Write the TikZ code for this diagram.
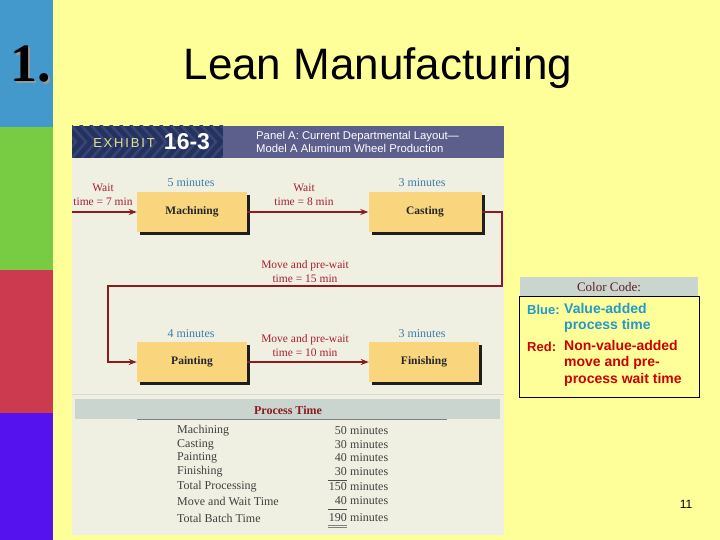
\documentclass[tikz,border=0pt]{standalone}
\usepackage{fontspec}
\setmainfont{Liberation Serif}
\newfontfamily\arialfont{Liberation Sans}
\newfontfamily\exhfont[LetterSpace=14]{Liberation Sans}
\usetikzlibrary{arrows.meta,positioning,shadows}
\definecolor{slideyellow}{RGB}{255,255,153}
\definecolor{stripeblue}{RGB}{68,153,204}
\definecolor{stripegreen}{RGB}{119,204,68}
\definecolor{stripered}{RGB}{204,58,80}
\definecolor{stripepurple}{RGB}{85,17,238}
\definecolor{panelbg}{RGB}{240,240,226}
\definecolor{headnavy}{RGB}{38,50,94}
\definecolor{headnavylight}{RGB}{54,68,118}
\definecolor{headgray}{RGB}{92,95,140}
\definecolor{exhyellow}{RGB}{226,224,140}
\definecolor{boxfill}{RGB}{249,214,126}
\definecolor{shadowgray}{RGB}{30,30,30}
\definecolor{flowred}{RGB}{140,26,30}
\definecolor{labelred}{RGB}{170,30,50}
\definecolor{labelblue}{RGB}{60,125,170}
\definecolor{bandgray}{RGB}{201,213,206}
\definecolor{codeblue}{RGB}{34,153,204}
\definecolor{codered}{RGB}{204,0,0}
\definecolor{codebrown}{RGB}{100,30,30}

\begin{document}
\begin{tikzpicture}[x=1pt, y=-1pt,
    procbox/.style={rectangle, fill=boxfill, minimum width=110pt, minimum height=40pt,
                    font=\fontsize{11.5}{13}\selectfont\bfseries, text=black!85,
                    drop shadow={shadow xshift=3pt, shadow yshift=-3pt, fill=shadowgray, opacity=1}},
    flow/.style={-{Stealth[length=8pt, width=6pt]}, line width=1.4pt, flowred},
    redlbl/.style={align=center, text=labelred, inner sep=0pt, font=\fontsize{11.5}{14}\selectfont},
    bluelbl/.style={text=labelblue, inner sep=0pt, font=\fontsize{12}{14}\selectfont},
    rowlbl/.style={anchor=west, inner sep=0pt, text=black!75, font=\fontsize{12}{14}\selectfont},
    rownum/.style={anchor=east, inner sep=0pt, text=black!75, font=\fontsize{12}{14}\selectfont},
    codetxt/.style={anchor=west, inner sep=0pt, font=\arialfont\fontsize{14}{16.5}\selectfont\bfseries}]

% Slide background and side stripes
\useasboundingbox (0,0) rectangle (720,540);
\fill[slideyellow] (0,0) rectangle (720,540);
\fill[stripeblue] (0,0) rectangle (53,127);
\fill[stripegreen] (0,127) rectangle (53,270);
\fill[stripered] (0,270) rectangle (53,413);
\fill[stripepurple] (0,413) rectangle (53,540);

% Slide number and title
\node[text=black!40, font=\fontsize{54}{58}\selectfont\bfseries] (numshadow) at (32.5,66) {1.};
\node[text=black, font=\fontsize{54}{58}\selectfont\bfseries] (num) at (31,64.5) {1.};
\node[font=\arialfont\fontsize{44}{48}\selectfont] (title) at (378,68) {Lean Manufacturing};

% Exhibit panel
\begin{scope}
\clip (72,126) rectangle (504,535);
\fill[panelbg] (72,126) rectangle (504,535);
\begin{scope}
\clip (72,126) rectangle (223,158);
\fill[headnavy] (72,126) rectangle (223,158);
\foreach \i in {0,...,16} {
  \draw[headnavylight, line width=2.5pt] (60+\i*10,160) -- (76+\i*10,142) -- (60+\i*10,124);
}
\end{scope}
\fill[headgray] (223,126) rectangle (504,158);
\node[text=exhyellow, font=\exhfont\fontsize{13}{15}\selectfont] (exh) at (124,143) {EXHIBIT};
\node[text=white, font=\arialfont\fontsize{23}{25}\selectfont\bfseries] (exhnum) at (187,142) {16-3};
\node[anchor=west, align=left, text=white, inner sep=0pt,
      font=\arialfont\fontsize{11.3}{13}\selectfont] (panelA) at (256,142)
      {Panel A: Current Departmental Layout—\\Model A Aluminum Wheel Production};

% Departments
\node[procbox] (mach) at (192,212) {Machining};
\node[procbox, minimum width=113pt] (cast) at (425,212) {Casting};
\node[procbox] (paint) at (192,362) {Painting};
\node[procbox] (fin) at (424,362) {Finishing};

% Flow
\coordinate (start) at (70,212);
\coordinate (turnR) at (502,286);
\coordinate (turnL) at (108,286);
\draw[flow] (start) -- (mach.west);
\draw[flow] (mach.east) -- (cast.west);
\draw[flow] (cast.east) -| (turnR) -- (turnL) |- (paint.west);
\draw[flow] (paint.east) -- (fin.west);

% Times
\node[bluelbl] (t1) at (191,183) {5 minutes};
\node[bluelbl] (t2) at (422,183) {3 minutes};
\node[bluelbl] (t3) at (191,334) {4 minutes};
\node[bluelbl] (t4) at (422,334) {3 minutes};
\node[redlbl] (w1) at (103,195) {Wait\\time = 7 min};
\node[redlbl] (w2) at (304,195) {Wait\\time = 8 min};
\node[redlbl] (w3) at (305,272) {Move and pre-wait\\time = 15 min};
\node[redlbl] (w4) at (305,346) {Move and pre-wait\\time = 10 min};

% Process time table
\draw[black!15, line width=0.8pt] (72,394) -- (504,394);
\fill[bandgray] (75,399) rectangle (500,419);
\draw[black!50, line width=0.6pt] (137,419.5) -- (447,419.5);
\node[text=flowred, font=\fontsize{12}{14}\selectfont\bfseries] (ptime) at (288,410) {Process Time};
\foreach \lbl/\val/\yy [count=\k] in {Machining/50/431, Casting/30/445, Painting/40/458,
    Finishing/30/472, Total Processing/150/487, Move and Wait Time/40/501, Total Batch Time/190/518} {
  \node[rowlbl] (row\k) at (177,\yy) {\lbl};
  \node[rownum] (val\k) at (347,\yy) {\val};
  \node[rowlbl] (unit\k) at (350,\yy) {minutes};
}
\draw[black!70, line width=0.6pt] (328,480) -- (347,480);
\draw[black!70, line width=0.6pt] (328,509) -- (347,509);
\draw[black!50, line width=0.6pt] (328,525.5) -- (347,525.5);
\draw[black!50, line width=0.6pt] (328,527.5) -- (347,527.5);
\end{scope}

% Colour code legend
\fill[bandgray] (520,277) rectangle (698,296);
\node[text=codebrown, font=\fontsize{13}{15}\selectfont] (cchead) at (609,287) {Color Code:};
\draw[black, line width=0.8pt] (519,296) rectangle (699,397);
\node[codetxt, text=codeblue, font=\arialfont\fontsize{13}{16}\selectfont\bfseries] (cblue) at (527,310) {Blue:};
\node[codetxt, text=codeblue, align=left, anchor=north west] (cbluetxt) at (564,303) {Value-added\\process time};
\node[codetxt, text=codered, font=\arialfont\fontsize{13}{16}\selectfont\bfseries] (cred) at (527,347) {Red:};
\node[codetxt, text=codered, align=left, anchor=north west] (credtxt) at (564,340) {Non-value-added\\move and pre-\\process wait time};

% Page number
\node[font=\arialfont\fontsize{12}{14}\selectfont] (page) at (686,504) {11};
\end{tikzpicture}
\end{document}
